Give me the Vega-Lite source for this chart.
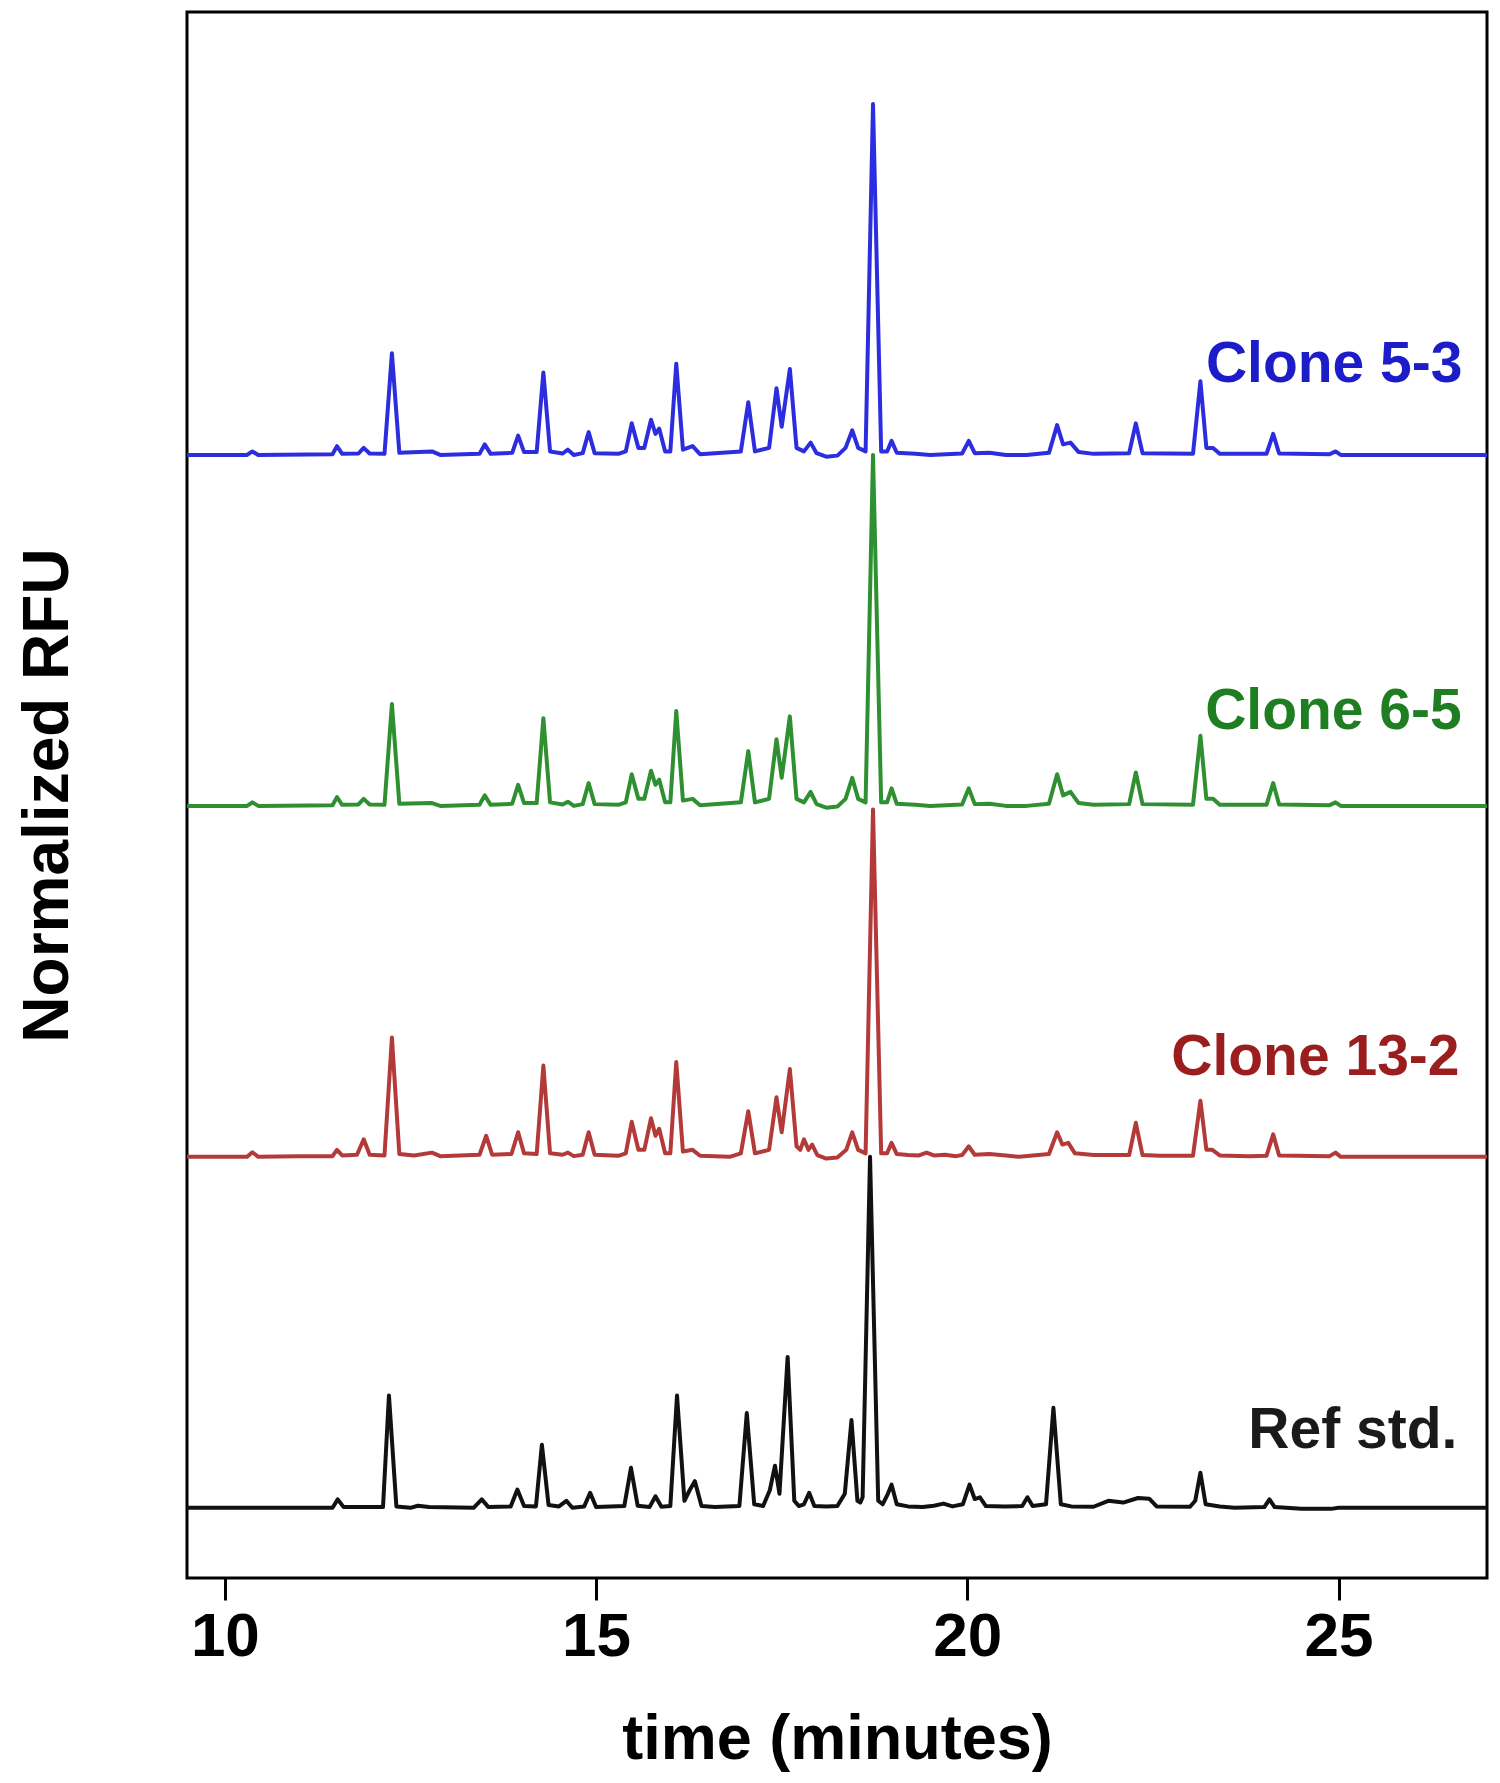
{
  "$schema": "https://vega.github.io/schema/vega-lite/v6.json",
  "width": 1300,
  "height": 1566,
  "autosize": {"type": "none"},
  "padding": {"left": 187, "top": 12, "right": 13, "bottom": 205},
  "background": "white",
  "config": {"view": {"stroke": "#000", "strokeWidth": 3}, "font": "Liberation Sans"},
  "datasets": {
    "ref": [
      {"t":9.49,"rfu":0},{"t":11.0,"rfu":0},{"t":11.45,"rfu":0},{"t":11.52,"rfu":0.024},{"t":11.6,"rfu":0.002},{"t":12.13,"rfu":0.002},{"t":12.21,"rfu":0.32},{"t":12.31,"rfu":0.004},{"t":12.5,"rfu":0.0},{"t":12.6,"rfu":0.006},{"t":12.75,"rfu":0.002},{"t":13.35,"rfu":0.0},{"t":13.46,"rfu":0.024},{"t":13.55,"rfu":0.002},{"t":13.85,"rfu":0.004},{"t":13.94,"rfu":0.052},{"t":14.03,"rfu":0.005},{"t":14.19,"rfu":0.004},{"t":14.27,"rfu":0.18},{"t":14.36,"rfu":0.008},{"t":14.5,"rfu":0.004},{"t":14.6,"rfu":0.02},{"t":14.68,"rfu":0.0},{"t":14.84,"rfu":0.004},{"t":14.92,"rfu":0.043},{"t":15.0,"rfu":0.002},{"t":15.38,"rfu":0.005},{"t":15.47,"rfu":0.114},{"t":15.56,"rfu":0.006},{"t":15.72,"rfu":0.002},{"t":15.8,"rfu":0.033},{"t":15.88,"rfu":0.003},{"t":16.0,"rfu":0.005},{"t":16.09,"rfu":0.32},{"t":16.19,"rfu":0.02},{"t":16.26,"rfu":0.05},{"t":16.33,"rfu":0.076},{"t":16.42,"rfu":0.005},{"t":16.6,"rfu":0.002},{"t":16.93,"rfu":0.005},{"t":17.03,"rfu":0.27},{"t":17.13,"rfu":0.01},{"t":17.25,"rfu":0.005},{"t":17.34,"rfu":0.05},{"t":17.41,"rfu":0.12},{"t":17.47,"rfu":0.04},{"t":17.58,"rfu":0.43},{"t":17.67,"rfu":0.02},{"t":17.73,"rfu":0.005},{"t":17.8,"rfu":0.01},{"t":17.87,"rfu":0.043},{"t":17.94,"rfu":0.005},{"t":18.1,"rfu":0.004},{"t":18.25,"rfu":0.005},{"t":18.35,"rfu":0.04},{"t":18.44,"rfu":0.25},{"t":18.52,"rfu":0.02},{"t":18.56,"rfu":0.015},{"t":18.59,"rfu":0.03},{"t":18.69,"rfu":1.0},{"t":18.8,"rfu":0.02},{"t":18.86,"rfu":0.01},{"t":18.93,"rfu":0.04},{"t":18.98,"rfu":0.066},{"t":19.05,"rfu":0.01},{"t":19.2,"rfu":0.004},{"t":19.4,"rfu":0.002},{"t":19.55,"rfu":0.006},{"t":19.68,"rfu":0.012},{"t":19.8,"rfu":0.004},{"t":19.94,"rfu":0.01},{"t":20.03,"rfu":0.066},{"t":20.1,"rfu":0.025},{"t":20.17,"rfu":0.03},{"t":20.25,"rfu":0.005},{"t":20.5,"rfu":0.004},{"t":20.74,"rfu":0.005},{"t":20.81,"rfu":0.03},{"t":20.88,"rfu":0.005},{"t":21.06,"rfu":0.01},{"t":21.16,"rfu":0.285},{"t":21.26,"rfu":0.01},{"t":21.4,"rfu":0.004},{"t":21.7,"rfu":0.003},{"t":21.9,"rfu":0.02},{"t":22.1,"rfu":0.015},{"t":22.3,"rfu":0.028},{"t":22.45,"rfu":0.026},{"t":22.55,"rfu":0.004},{"t":23.0,"rfu":0.003},{"t":23.07,"rfu":0.02},{"t":23.14,"rfu":0.1},{"t":23.21,"rfu":0.01},{"t":23.4,"rfu":0.004},{"t":23.6,"rfu":0.0},{"t":24.0,"rfu":0.002},{"t":24.07,"rfu":0.024},{"t":24.14,"rfu":0.002},{"t":24.5,"rfu":-0.003},{"t":24.9,"rfu":-0.003},{"t":25.0,"rfu":0.0},{"t":27.0,"rfu":0.0}
    ],
    "c132": [
      {"t":9.49,"rfu":0},{"t":10.3,"rfu":0},{"t":10.37,"rfu":0.013},{"t":10.45,"rfu":0},{"t":11.0,"rfu":0.002},{"t":11.45,"rfu":0.002},{"t":11.51,"rfu":0.02},{"t":11.58,"rfu":0.004},{"t":11.78,"rfu":0.006},{"t":11.87,"rfu":0.05},{"t":11.95,"rfu":0.006},{"t":12.15,"rfu":0.004},{"t":12.25,"rfu":0.34},{"t":12.35,"rfu":0.008},{"t":12.55,"rfu":0.004},{"t":12.79,"rfu":0.012},{"t":12.9,"rfu":0.002},{"t":13.43,"rfu":0.006},{"t":13.52,"rfu":0.06},{"t":13.6,"rfu":0.006},{"t":13.86,"rfu":0.008},{"t":13.95,"rfu":0.07},{"t":14.03,"rfu":0.01},{"t":14.2,"rfu":0.008},{"t":14.29,"rfu":0.26},{"t":14.38,"rfu":0.01},{"t":14.55,"rfu":0.006},{"t":14.62,"rfu":0.012},{"t":14.7,"rfu":0.002},{"t":14.82,"rfu":0.006},{"t":14.9,"rfu":0.07},{"t":14.98,"rfu":0.006},{"t":15.3,"rfu":0.003},{"t":15.4,"rfu":0.01},{"t":15.48,"rfu":0.1},{"t":15.57,"rfu":0.02},{"t":15.65,"rfu":0.02},{"t":15.74,"rfu":0.11},{"t":15.8,"rfu":0.06},{"t":15.85,"rfu":0.08},{"t":15.93,"rfu":0.01},{"t":16.0,"rfu":0.01},{"t":16.08,"rfu":0.27},{"t":16.17,"rfu":0.015},{"t":16.3,"rfu":0.02},{"t":16.4,"rfu":0.003},{"t":16.8,"rfu":0.0},{"t":16.95,"rfu":0.01},{"t":17.05,"rfu":0.13},{"t":17.14,"rfu":0.01},{"t":17.33,"rfu":0.02},{"t":17.43,"rfu":0.17},{"t":17.5,"rfu":0.07},{"t":17.61,"rfu":0.25},{"t":17.7,"rfu":0.03},{"t":17.75,"rfu":0.02},{"t":17.8,"rfu":0.05},{"t":17.86,"rfu":0.02},{"t":17.91,"rfu":0.035},{"t":17.98,"rfu":0.005},{"t":18.1,"rfu":-0.005},{"t":18.25,"rfu":-0.002},{"t":18.37,"rfu":0.02},{"t":18.45,"rfu":0.07},{"t":18.53,"rfu":0.02},{"t":18.63,"rfu":0.01},{"t":18.73,"rfu":0.99},{"t":18.84,"rfu":0.01},{"t":18.92,"rfu":0.01},{"t":18.98,"rfu":0.04},{"t":19.05,"rfu":0.008},{"t":19.2,"rfu":0.005},{"t":19.35,"rfu":0.004},{"t":19.45,"rfu":0.012},{"t":19.55,"rfu":0.004},{"t":19.7,"rfu":0.006},{"t":19.85,"rfu":0.002},{"t":19.93,"rfu":0.005},{"t":20.02,"rfu":0.03},{"t":20.1,"rfu":0.006},{"t":20.3,"rfu":0.008},{"t":20.52,"rfu":0.004},{"t":20.7,"rfu":0.0},{"t":21.1,"rfu":0.008},{"t":21.21,"rfu":0.07},{"t":21.28,"rfu":0.035},{"t":21.36,"rfu":0.04},{"t":21.45,"rfu":0.01},{"t":21.7,"rfu":0.005},{"t":22.18,"rfu":0.005},{"t":22.27,"rfu":0.097},{"t":22.36,"rfu":0.005},{"t":22.6,"rfu":0.003},{"t":23.04,"rfu":0.003},{"t":23.14,"rfu":0.16},{"t":23.22,"rfu":0.02},{"t":23.3,"rfu":0.02},{"t":23.4,"rfu":0.004},{"t":23.8,"rfu":0.002},{"t":24.03,"rfu":0.003},{"t":24.12,"rfu":0.064},{"t":24.2,"rfu":0.004},{"t":24.88,"rfu":0.002},{"t":24.96,"rfu":0.012},{"t":25.03,"rfu":0.0},{"t":27.0,"rfu":0.0}
    ],
    "c65": [
      {"t":9.49,"rfu":0},{"t":10.3,"rfu":0},{"t":10.37,"rfu":0.01},{"t":10.45,"rfu":0},{"t":11.45,"rfu":0.002},{"t":11.51,"rfu":0.025},{"t":11.58,"rfu":0.003},{"t":11.8,"rfu":0.004},{"t":11.87,"rfu":0.02},{"t":11.95,"rfu":0.004},{"t":12.15,"rfu":0.003},{"t":12.25,"rfu":0.29},{"t":12.35,"rfu":0.006},{"t":12.79,"rfu":0.008},{"t":12.9,"rfu":0.0},{"t":13.43,"rfu":0.003},{"t":13.5,"rfu":0.03},{"t":13.58,"rfu":0.003},{"t":13.87,"rfu":0.006},{"t":13.95,"rfu":0.06},{"t":14.03,"rfu":0.008},{"t":14.2,"rfu":0.008},{"t":14.29,"rfu":0.25},{"t":14.38,"rfu":0.01},{"t":14.55,"rfu":0.004},{"t":14.62,"rfu":0.012},{"t":14.7,"rfu":0.0},{"t":14.82,"rfu":0.005},{"t":14.9,"rfu":0.065},{"t":14.98,"rfu":0.005},{"t":15.3,"rfu":0.003},{"t":15.4,"rfu":0.01},{"t":15.48,"rfu":0.09},{"t":15.57,"rfu":0.02},{"t":15.65,"rfu":0.02},{"t":15.74,"rfu":0.1},{"t":15.8,"rfu":0.06},{"t":15.85,"rfu":0.075},{"t":15.93,"rfu":0.01},{"t":16.0,"rfu":0.01},{"t":16.08,"rfu":0.27},{"t":16.17,"rfu":0.015},{"t":16.3,"rfu":0.02},{"t":16.4,"rfu":0.002},{"t":16.95,"rfu":0.01},{"t":17.05,"rfu":0.156},{"t":17.14,"rfu":0.01},{"t":17.33,"rfu":0.02},{"t":17.43,"rfu":0.19},{"t":17.5,"rfu":0.08},{"t":17.61,"rfu":0.255},{"t":17.7,"rfu":0.02},{"t":17.8,"rfu":0.01},{"t":17.89,"rfu":0.04},{"t":17.97,"rfu":0.005},{"t":18.1,"rfu":-0.005},{"t":18.25,"rfu":-0.002},{"t":18.36,"rfu":0.02},{"t":18.45,"rfu":0.08},{"t":18.53,"rfu":0.02},{"t":18.63,"rfu":0.01},{"t":18.73,"rfu":1.0},{"t":18.84,"rfu":0.01},{"t":18.92,"rfu":0.01},{"t":18.98,"rfu":0.05},{"t":19.05,"rfu":0.006},{"t":19.3,"rfu":0.003},{"t":19.5,"rfu":0.0},{"t":19.93,"rfu":0.004},{"t":20.02,"rfu":0.05},{"t":20.1,"rfu":0.005},{"t":20.3,"rfu":0.006},{"t":20.52,"rfu":0.0},{"t":20.8,"rfu":0.0},{"t":21.1,"rfu":0.006},{"t":21.21,"rfu":0.09},{"t":21.29,"rfu":0.03},{"t":21.39,"rfu":0.04},{"t":21.5,"rfu":0.008},{"t":21.7,"rfu":0.003},{"t":22.18,"rfu":0.005},{"t":22.27,"rfu":0.095},{"t":22.36,"rfu":0.005},{"t":23.04,"rfu":0.003},{"t":23.14,"rfu":0.2},{"t":23.22,"rfu":0.02},{"t":23.31,"rfu":0.02},{"t":23.4,"rfu":0.003},{"t":24.03,"rfu":0.003},{"t":24.12,"rfu":0.065},{"t":24.2,"rfu":0.004},{"t":24.88,"rfu":0.002},{"t":24.96,"rfu":0.01},{"t":25.03,"rfu":0.0},{"t":27.0,"rfu":0.0}
    ],
    "c53": [
      {"t":9.49,"rfu":0},{"t":10.3,"rfu":0},{"t":10.37,"rfu":0.01},{"t":10.45,"rfu":0},{"t":11.45,"rfu":0.002},{"t":11.51,"rfu":0.025},{"t":11.58,"rfu":0.003},{"t":11.8,"rfu":0.004},{"t":11.87,"rfu":0.02},{"t":11.95,"rfu":0.004},{"t":12.15,"rfu":0.003},{"t":12.25,"rfu":0.29},{"t":12.35,"rfu":0.006},{"t":12.79,"rfu":0.01},{"t":12.9,"rfu":0.0},{"t":13.43,"rfu":0.003},{"t":13.5,"rfu":0.03},{"t":13.58,"rfu":0.003},{"t":13.87,"rfu":0.006},{"t":13.95,"rfu":0.055},{"t":14.03,"rfu":0.008},{"t":14.2,"rfu":0.008},{"t":14.29,"rfu":0.235},{"t":14.38,"rfu":0.01},{"t":14.55,"rfu":0.004},{"t":14.62,"rfu":0.015},{"t":14.7,"rfu":0.0},{"t":14.82,"rfu":0.005},{"t":14.9,"rfu":0.065},{"t":14.98,"rfu":0.005},{"t":15.3,"rfu":0.003},{"t":15.4,"rfu":0.01},{"t":15.48,"rfu":0.09},{"t":15.57,"rfu":0.02},{"t":15.65,"rfu":0.02},{"t":15.74,"rfu":0.1},{"t":15.8,"rfu":0.06},{"t":15.85,"rfu":0.075},{"t":15.93,"rfu":0.01},{"t":16.0,"rfu":0.01},{"t":16.08,"rfu":0.26},{"t":16.17,"rfu":0.015},{"t":16.3,"rfu":0.025},{"t":16.4,"rfu":0.002},{"t":16.95,"rfu":0.01},{"t":17.05,"rfu":0.15},{"t":17.14,"rfu":0.01},{"t":17.33,"rfu":0.02},{"t":17.43,"rfu":0.19},{"t":17.5,"rfu":0.08},{"t":17.61,"rfu":0.245},{"t":17.7,"rfu":0.02},{"t":17.8,"rfu":0.01},{"t":17.89,"rfu":0.035},{"t":17.97,"rfu":0.005},{"t":18.1,"rfu":-0.005},{"t":18.25,"rfu":-0.002},{"t":18.36,"rfu":0.02},{"t":18.45,"rfu":0.07},{"t":18.53,"rfu":0.02},{"t":18.63,"rfu":0.01},{"t":18.73,"rfu":1.0},{"t":18.84,"rfu":0.01},{"t":18.92,"rfu":0.01},{"t":18.98,"rfu":0.04},{"t":19.05,"rfu":0.006},{"t":19.3,"rfu":0.003},{"t":19.5,"rfu":0.0},{"t":19.93,"rfu":0.004},{"t":20.02,"rfu":0.04},{"t":20.1,"rfu":0.005},{"t":20.3,"rfu":0.006},{"t":20.52,"rfu":0.0},{"t":20.8,"rfu":0.0},{"t":21.1,"rfu":0.006},{"t":21.21,"rfu":0.085},{"t":21.29,"rfu":0.03},{"t":21.39,"rfu":0.035},{"t":21.5,"rfu":0.008},{"t":21.7,"rfu":0.003},{"t":22.18,"rfu":0.005},{"t":22.27,"rfu":0.09},{"t":22.36,"rfu":0.005},{"t":23.04,"rfu":0.003},{"t":23.14,"rfu":0.21},{"t":23.22,"rfu":0.02},{"t":23.31,"rfu":0.02},{"t":23.4,"rfu":0.003},{"t":24.03,"rfu":0.003},{"t":24.12,"rfu":0.06},{"t":24.2,"rfu":0.004},{"t":24.88,"rfu":0.002},{"t":24.96,"rfu":0.01},{"t":25.03,"rfu":0.0},{"t":27.0,"rfu":0.0}
    ]
  },
  "layer": [
    {
      "layer": [
        {
          "data": {"name": "ref"},
          "mark": {"type": "line", "color": "#111111", "strokeWidth": 4, "strokeJoin": "round"},
          "encoding": {
            "x": {"field": "t", "type": "quantitative", "scale": {"domain": [9.49, 27.0], "nice": false, "zero": false},
              "axis": {"title": "time (minutes)", "values": [10, 15, 20, 25], "format": "d", "domain": false, "grid": false, "ticks": true, "tickSize": 22, "tickWidth": 3, "tickColor": "#000", "labelFontSize": 62, "labelFontWeight": "bold", "labelColor": "#000", "labelPadding": 6, "labelFont": "Liberation Sans", "labelFlush": false, "titleFontSize": 63, "titleFontWeight": "bold", "titleColor": "#000", "titleFont": "Liberation Sans", "titleBaseline": "alphabetic", "titleY": 180}},
            "y": {"field": "rfu", "type": "quantitative", "scale": {"domain": [-0.2, 4.262], "nice": false, "zero": false},
              "axis": {"title": "Normalized RFU", "labels": false, "ticks": false, "domain": false, "grid": false, "titleFontSize": 64, "titleFontWeight": "bold", "titleColor": "#000", "titleFont": "Liberation Sans", "titleX": -120, "titleBaseline": "alphabetic", "titleAngle": -90}}
          }
        },
        {
          "data": {"values": [{"label": "Ref std.", "t": 26.6, "rfu": 0.171}]},
          "mark": {"type": "text", "align": "right", "baseline": "alphabetic", "fontSize": 57, "fontWeight": "bold", "font": "Liberation Sans", "color": "#1a1a1a"},
          "encoding": {"x": {"field": "t", "type": "quantitative"}, "y": {"field": "rfu", "type": "quantitative"}, "text": {"field": "label"}}
        }
      ]
    },
    {
      "layer": [
        {
          "data": {"name": "c132"},
          "mark": {"type": "line", "color": "#b43a3a", "strokeWidth": 4, "strokeJoin": "round"},
          "encoding": {
            "x": {"field": "t", "type": "quantitative"},
            "y": {"field": "rfu", "type": "quantitative", "scale": {"domain": [-1.2, 3.262], "nice": false, "zero": false}, "axis": null}
          }
        },
        {
          "data": {"values": [{"label": "Clone 13-2", "t": 26.63, "rfu": 0.232}]},
          "mark": {"type": "text", "align": "right", "baseline": "alphabetic", "fontSize": 57, "fontWeight": "bold", "font": "Liberation Sans", "color": "#9a1e1e"},
          "encoding": {"x": {"field": "t", "type": "quantitative"}, "y": {"field": "rfu", "type": "quantitative"}, "text": {"field": "label"}}
        }
      ]
    },
    {
      "layer": [
        {
          "data": {"name": "c65"},
          "mark": {"type": "line", "color": "#2f9032", "strokeWidth": 4, "strokeJoin": "round"},
          "encoding": {
            "x": {"field": "t", "type": "quantitative"},
            "y": {"field": "rfu", "type": "quantitative", "scale": {"domain": [-2.2, 2.262], "nice": false, "zero": false}, "axis": null}
          }
        },
        {
          "data": {"values": [{"label": "Clone 6-5", "t": 26.66, "rfu": 0.219}]},
          "mark": {"type": "text", "align": "right", "baseline": "alphabetic", "fontSize": 57, "fontWeight": "bold", "font": "Liberation Sans", "color": "#1f7d22"},
          "encoding": {"x": {"field": "t", "type": "quantitative"}, "y": {"field": "rfu", "type": "quantitative"}, "text": {"field": "label"}}
        }
      ]
    },
    {
      "layer": [
        {
          "data": {"name": "c53"},
          "mark": {"type": "line", "color": "#2d2de0", "strokeWidth": 4, "strokeJoin": "round"},
          "encoding": {
            "x": {"field": "t", "type": "quantitative"},
            "y": {"field": "rfu", "type": "quantitative", "scale": {"domain": [-3.2, 1.262], "nice": false, "zero": false}, "axis": null}
          }
        },
        {
          "data": {"values": [{"label": "Clone 5-3", "t": 26.67, "rfu": 0.209}]},
          "mark": {"type": "text", "align": "right", "baseline": "alphabetic", "fontSize": 57, "fontWeight": "bold", "font": "Liberation Sans", "color": "#1c1cc8"},
          "encoding": {"x": {"field": "t", "type": "quantitative"}, "y": {"field": "rfu", "type": "quantitative"}, "text": {"field": "label"}}
        }
      ]
    }
  ],
  "resolve": {"scale": {"y": "independent"}}
}
